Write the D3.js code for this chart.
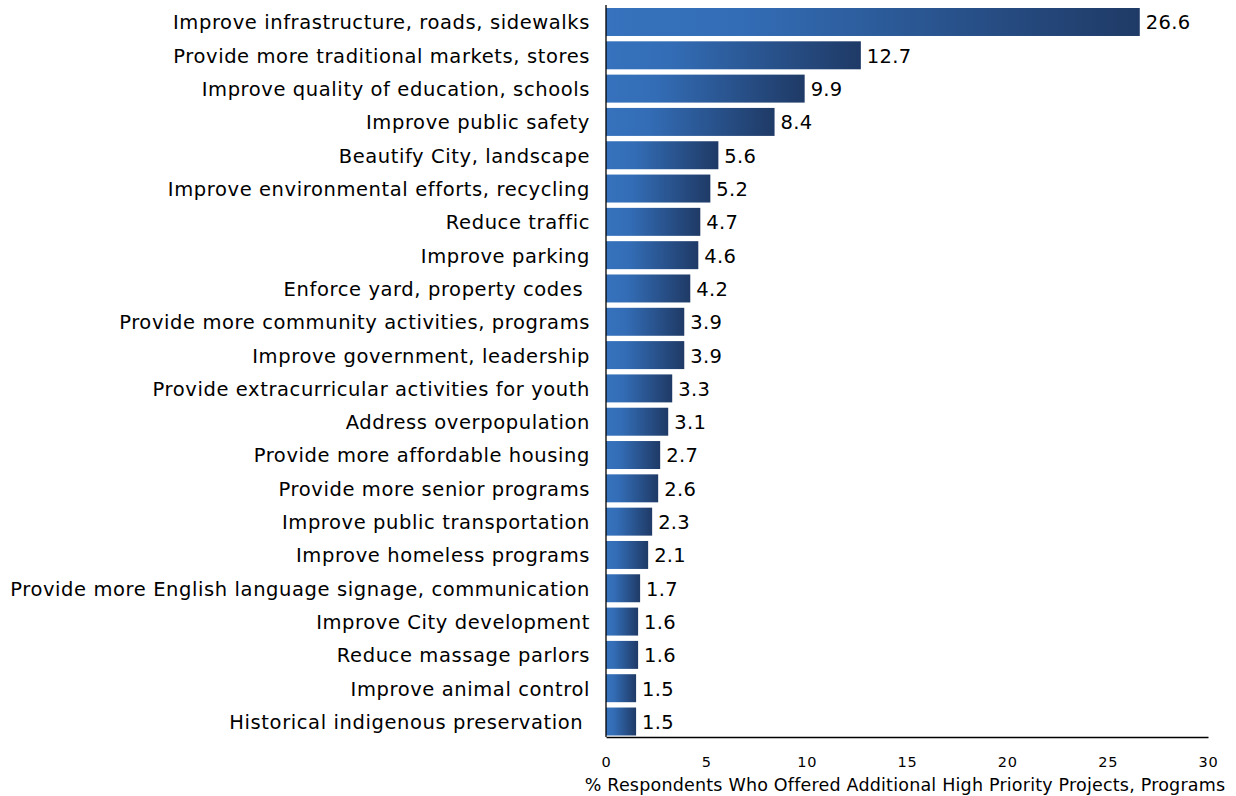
<!DOCTYPE html>
<html><head><meta charset="utf-8">
<script src="https://cdn.jsdelivr.net/npm/d3@7"></script>
<style>body{margin:0;background:#fff}svg{display:block}text{white-space:pre}</style>
</head><body>
<svg id="c" width="1236" height="796"></svg>
<script>
const categories = [
 "Improve infrastructure, roads, sidewalks",
 "Provide more traditional markets, stores",
 "Improve quality of education, schools",
 "Improve public safety",
 "Beautify City, landscape",
 "Improve environmental efforts, recycling",
 "Reduce traffic",
 "Improve parking",
 "Enforce yard, property codes ",
 "Provide more community activities, programs",
 "Improve government, leadership",
 "Provide extracurricular activities for youth",
 "Address overpopulation",
 "Provide more affordable housing",
 "Provide more senior programs",
 "Improve public transportation",
 "Improve homeless programs",
 "Provide more English language signage, communication",
 "Improve City development",
 "Reduce massage parlors",
 "Improve animal control",
 "Historical indigenous preservation "
];
const values = [26.6,12.7,9.9,8.4,5.6,5.2,4.7,4.6,4.2,3.9,3.9,3.3,3.1,2.7,2.6,2.3,2.1,1.7,1.6,1.6,1.5,1.5];
const xTicks = [0,5,10,15,20,25,30];
const xTitle = "% Respondents Who Offered Additional High Priority Projects, Programs";

const data = categories.map((c,i)=>({c, v: values[i]}));
const svg = d3.select("#c");
const font = "DejaVu Sans, sans-serif";
const L = 606, R = 1208, T = 5, B = 737;

const x = d3.scaleLinear().domain([0,30]).range([L,R]);
const y = d3.scaleBand().domain(categories).range([8, 735.5]).paddingInner(0.16).paddingOuter(0);

const defs = svg.append("defs");
const g = defs.append("linearGradient").attr("id","grad").attr("x1","0").attr("x2","1").attr("y1","0").attr("y2","0");
g.append("stop").attr("offset","0%").attr("stop-color","#3672bd");
g.append("stop").attr("offset","25%").attr("stop-color","#336db6");
g.append("stop").attr("offset","100%").attr("stop-color","#1f3a66");

svg.selectAll("rect.bar").data(data).join("rect").attr("class","bar")
  .attr("x", x(0)).attr("y", d=>y(d.c))
  .attr("width", d=>x(d.v)-x(0)).attr("height", y.bandwidth())
  .attr("fill","url(#grad)");

svg.selectAll("text.val").data(data).join("text").attr("class","val")
  .attr("x", d=>x(d.v)+6).attr("y", d=>y(d.c)+y.bandwidth()/2)
  .attr("dy","0.38em").attr("font-family",font).attr("font-size",19.5).attr("letter-spacing","0.3px").attr("fill","#000")
  .text(d=>d.v.toFixed(1));

svg.selectAll("text.cat").data(data).join("text").attr("class","cat")
  .attr("x", L-16).attr("y", d=>y(d.c)+y.bandwidth()/2)
  .attr("dy","0.38em").attr("text-anchor","end").attr("font-family",font).attr("font-size",19.5).attr("letter-spacing","0.6px").attr("fill","#000")
  .text(d=>d.c);

// axes
const xa = svg.append("g").attr("transform",`translate(0,${B})`)
  .call(d3.axisBottom(x).tickValues(xTicks).tickSize(0).tickPadding(20));
xa.select(".domain").attr("stroke","#000").attr("stroke-width",1.3);
xa.selectAll("text").attr("font-family",font).attr("font-size",14.5).attr("letter-spacing","0.8px").attr("fill","#000");

svg.append("line").attr("x1",L).attr("x2",L).attr("y1",T).attr("y2",B).attr("stroke","#000").attr("stroke-width",1.3);

svg.append("text").attr("x",(L+R)/2 - 2).attr("y",791).attr("text-anchor","middle")
  .attr("font-family",font).attr("font-size",17.5).attr("letter-spacing","0.2px").attr("fill","#000").text(xTitle);
</script>
</body></html>
